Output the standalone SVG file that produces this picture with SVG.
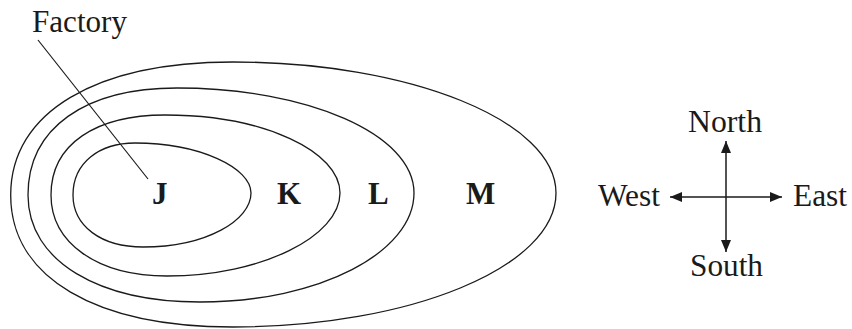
<svg xmlns="http://www.w3.org/2000/svg" width="852" height="329" viewBox="0 0 852 329">
<defs>
<style>
.c{fill:none;stroke:#1a1a1a;stroke-width:1.3}
.t{font-family:"Liberation Serif","Times New Roman",serif;font-size:32px;fill:#1a1a1a}
.b{font-family:"Liberation Serif","Times New Roman",serif;font-size:31px;font-weight:bold;fill:#1a1a1a}
.a{stroke:#1a1a1a;stroke-width:1.5;fill:none}
</style>
<marker id="ah" viewBox="0 0 12 10" refX="12" refY="5" markerWidth="12" markerHeight="10" markerUnits="userSpaceOnUse" orient="auto">
<path d="M0,0 L12,5 L0,10 Z" fill="#1a1a1a"/>
</marker>
</defs>
<rect width="852" height="329" fill="#fff"/>
<g id="contour-M"><path class="c" d="M10.7,195 C10.7,112 96,62 233,62 C410,62 556,121 556,193 C556,267 410,327 233,327 C96,327 10.7,278 10.7,195 Z"/></g>
<g id="contour-L"><path class="c" d="M28,195 C28,128 85,88 177,88 C307,88 414,134 414,193 C414,252 320,302 200,302 C100,302 28,262 28,195 Z"/></g>
<g id="contour-K"><path class="c" d="M51,195 C51,144 96,115 165,115 C265,115 340,152 340,193 C340,236 262,276 167,276 C96,276 51,242 51,195 Z"/></g>
<g id="contour-J"><path class="c" d="M73,195 C73,163 99,143 135,143 C200,143 251,168 251,193 C251,220 207,247 143,247 C101,247 73,226 73,195 Z"/></g>
<g id="labels">
<text class="b" x="152" y="204">J</text>
<text class="b" x="277" y="204">K</text>
<text class="b" x="368" y="204">L</text>
<text class="b" x="466" y="204">M</text>
</g>
<g id="factory"><text class="t" x="32" y="32" textLength="95" lengthAdjust="spacingAndGlyphs">Factory</text></g>
<g id="compass-labels">
<text class="t" x="688" y="132" textLength="74" lengthAdjust="spacingAndGlyphs">North</text>
<text class="t" x="690" y="276" textLength="73" lengthAdjust="spacingAndGlyphs">South</text>
<text class="t" x="598" y="206" textLength="62" lengthAdjust="spacingAndGlyphs">West</text>
<text class="t" x="793" y="206" textLength="54" lengthAdjust="spacingAndGlyphs">East</text>
</g>
<g id="connectors">
<line x1="38" y1="40" x2="148" y2="179" stroke="#1a1a1a" stroke-width="1.2"/>
<line class="a" x1="726" y1="197" x2="726" y2="141" marker-end="url(#ah)"/>
<line class="a" x1="726" y1="197" x2="726" y2="252" marker-end="url(#ah)"/>
<line class="a" x1="726" y1="197" x2="670" y2="197" marker-end="url(#ah)"/>
<line class="a" x1="726" y1="197" x2="782" y2="197" marker-end="url(#ah)"/>
</g>
</svg>
